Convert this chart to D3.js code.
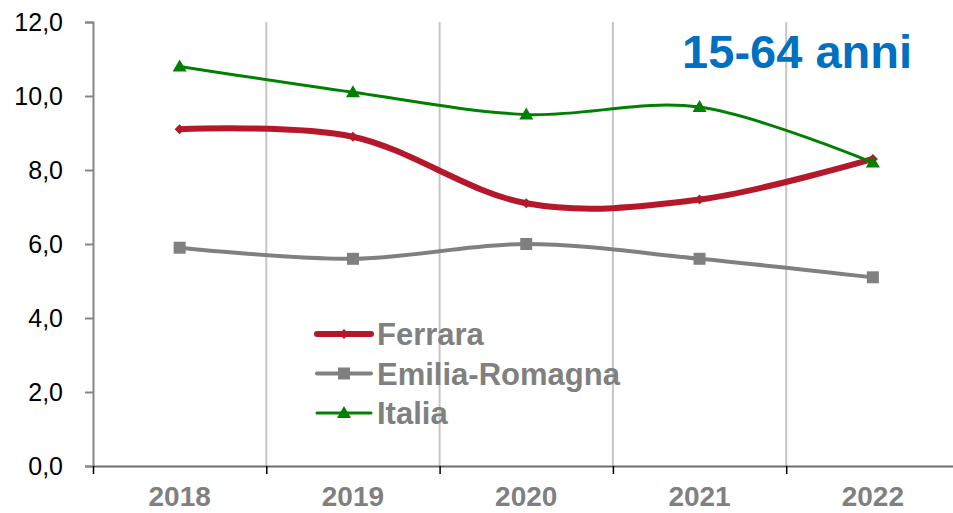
<!DOCTYPE html>
<html>
<head>
<meta charset="utf-8">
<script src="https://cdn.jsdelivr.net/npm/d3@7"></script>
<style>
  html, body { margin: 0; padding: 0; background: #fff; }
  svg { display: block; font-family: "Liberation Sans", Arial, sans-serif; }
</style>
</head>
<body>
<svg id="chart" width="953" height="513"></svg>
<script>
// Anni e tassi (valori %) per le tre aree
const years = ["2018", "2019", "2020", "2021", "2022"];
const ferrara = [9.1, 8.9, 7.1, 7.2, 8.3];
const emiliaRomagna = [5.9, 5.6, 6.0, 5.6, 5.1];
const italia = [10.8, 10.1, 9.5, 9.7, 8.2];
const yTicks = [0, 2, 4, 6, 8, 10, 12];
const title = "15-64 anni";

const series = [
  { name: "Ferrara", values: ferrara, color: "#B5172B", width: 6, marker: "diamond" },
  { name: "Emilia-Romagna", values: emiliaRomagna, color: "#808080", width: 4, marker: "square" },
  { name: "Italia", values: italia, color: "#008000", width: 3, marker: "triangle" }
];

const svg = d3.select("#chart");
const plotLeft = 93, plotTop = 22, plotBottom = 466, plotRight = 959.5;

const x = d3.scaleBand().domain(years).range([plotLeft, plotRight]).padding(0);
const y = d3.scaleLinear().domain([0, 12]).range([plotBottom, plotTop]);
const fmt = v => d3.format(".1f")(v).replace(".", ",");

// vertical gridlines at category boundaries
svg.append("g")
  .selectAll("line")
  .data(years.slice(1))
  .join("line")
  .attr("x1", d => x(d)).attr("x2", d => x(d))
  .attr("y1", plotTop).attr("y2", plotBottom)
  .attr("stroke", "#C6C6C6").attr("stroke-width", 2);

// y axis
const yAxis = svg.append("g")
  .attr("transform", `translate(${plotLeft},0)`)
  .call(d3.axisLeft(y).tickValues(yTicks).tickFormat(fmt).tickSize(8).tickPadding(22));
yAxis.select(".domain").attr("stroke", "#868686").attr("stroke-width", 2);
yAxis.selectAll(".tick line").attr("stroke", "#868686").attr("stroke-width", 2);
yAxis.selectAll(".tick text")
  .attr("font-size", 25).attr("fill", "#000")
  .attr("font-family", "Liberation Sans, Arial, sans-serif");

// x axis: boundary ticks + centred year labels
const xb = d3.scaleLinear().domain([0, years.length]).range([plotLeft, plotRight]);
const xAxis = svg.append("g")
  .attr("transform", `translate(0,${plotBottom})`)
  .call(d3.axisBottom(xb).tickValues(d3.range(0, years.length + 1)).tickFormat("").tickSize(8).tickSizeOuter(0));
xAxis.select(".domain").attr("stroke", "#6E6E6E").attr("stroke-width", 2);
xAxis.selectAll(".tick line").attr("stroke", "#000").attr("stroke-width", 1.5);

svg.append("g")
  .selectAll("text")
  .data(years)
  .join("text")
  .attr("x", d => x(d) + x.bandwidth() / 2)
  .attr("y", 506)
  .attr("text-anchor", "middle")
  .attr("font-size", 28).attr("font-weight", "bold").attr("fill", "#808080")
  .text(d => d);

// markers
function drawMarker(g, type, cx, cy, color) {
  if (type === "diamond") {
    g.append("path")
      .attr("d", `M${cx},${cy - 5}L${cx + 5},${cy}L${cx},${cy + 5}L${cx - 5},${cy}Z`)
      .attr("fill", color);
  } else if (type === "square") {
    g.append("rect")
      .attr("x", cx - 6).attr("y", cy - 6).attr("width", 12).attr("height", 12)
      .attr("fill", color);
  } else {
    g.append("path")
      .attr("d", `M${cx},${cy - 7}L${cx + 7},${cy + 5}L${cx - 7},${cy + 5}Z`)
      .attr("fill", color);
  }
}

const line = d3.line()
  .x((d, i) => x(years[i]) + x.bandwidth() / 2)
  .y(d => y(d))
  .curve(d3.curveCatmullRom.alpha(0));

series.forEach(s => {
  const g = svg.append("g");
  g.append("path")
    .attr("d", line(s.values))
    .attr("fill", "none")
    .attr("stroke", s.color)
    .attr("stroke-width", s.width)
    .attr("stroke-linecap", "round");
  s.values.forEach((v, i) => drawMarker(g, s.marker, x(years[i]) + x.bandwidth() / 2, y(v), s.color));
});

// legend
const legend = svg.append("g");
series.forEach((s, i) => {
  const ly = 334 + i * 39.5;
  legend.append("line")
    .attr("x1", 317).attr("x2", 371).attr("y1", ly).attr("y2", ly)
    .attr("stroke", s.color).attr("stroke-width", s.width).attr("stroke-linecap", "round");
  drawMarker(legend, s.marker, 344, ly, s.color);
  legend.append("text")
    .attr("x", 377).attr("y", ly + 11)
    .attr("font-size", 31).attr("font-weight", "bold").attr("fill", "#808080")
    .text(s.name);
});

// title
svg.append("text")
  .attr("x", 912).attr("y", 68)
  .attr("text-anchor", "end")
  .attr("font-size", 47).attr("font-weight", "bold").attr("fill", "#0070C0")
  .text(title);
</script>
</body>
</html>
